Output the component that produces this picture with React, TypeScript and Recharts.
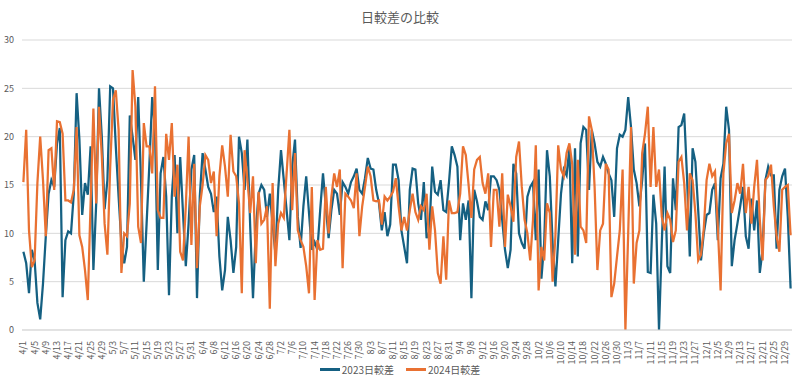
import { LineChart, Line, XAxis, YAxis, CartesianGrid } from 'recharts';

// 4月〜12月の日付ラベル
const MONTHS = [4, 5, 6, 7, 8, 9, 10, 11, 12];
const MONTH_DAYS = [30, 31, 30, 31, 31, 30, 31, 30, 31];
const dates: string[] = [];
MONTHS.forEach((m, i) => {
  for (let d = 1; d <= MONTH_DAYS[i]; d++) dates.push(`${m}/${d}`);
});

const Y_TICKS = [0, 5, 10, 15, 20, 25, 30];

// 2023日較差
const diff2023 = [
  8.1, 6.9, 3.8, 8.3, 7.2, 2.8, 1.1, 4.8, 9.7, 14.1,
  15.5, 14.8, 19.3, 20.9, 3.4, 9.3, 10.2, 10, 14.1, 24.5,
  19.7, 11.9, 15.2, 14, 19, 6.2, 13.1, 25, 20, 12.5,
  15.5, 25.2, 25, 19, 13.8, 9, 6.9, 8.6, 22.2, 20,
  17.6, 24.1, 15.5, 5, 11, 17.2, 24.1, 20.7, 6.2, 16.2,
  17.9, 13.8, 3.6, 13.8, 18.1, 10, 17.9, 12.1, 6.6, 11,
  16.6, 18.1, 3.3, 13.8, 18.3, 16.6, 14.8, 14.1, 12.2, 13.8,
  7.6, 4.1, 6.2, 11.7, 9.3, 5.9, 8.6, 20, 18.3, 14.5,
  19.7, 10.7, 3.3, 10.3, 14.1, 15, 14.5, 11.7, 14.1, 11,
  7.9, 14.5, 18.6, 15.5, 12.4, 9.3, 16.9, 19.7, 11.7, 8.5,
  12.8, 15.9, 12.1, 8.3, 9.1, 8.3, 12.4, 16.2, 12.8, 9.5,
  12.4, 14.5, 14.1, 11.9, 15.3, 14.8, 14.1, 15.3, 15.9, 16.7,
  14.5, 14.1, 15.7, 17.8, 16.7, 16.6, 14.5, 13.1, 10.3, 12.2,
  9.7, 10.9, 17.1, 17.1, 15.5, 10.3, 8.6, 6.9, 14.5, 16.7,
  16.6, 13.1, 11.4, 15.3, 9.5, 10.2, 16.9, 14.3, 14, 15.5,
  12.4, 12.2, 15.3, 19, 18.1, 16.9, 9.3, 13.1, 11.4, 13.4,
  3.3, 14.5, 13.3, 11.7, 11.4, 13.3, 12.4, 15.9, 15.9, 15.5,
  14.5, 11.4, 8.3, 6.4, 8.3, 17.2, 16.2, 10, 9, 8.4,
  13.8, 14.8, 15.3, 9.3, 16.6, 5.3, 9, 18.6, 15.9, 9,
  4.5, 9.3, 14.1, 16.6, 16, 18.8, 6.9, 18.8, 7.6, 19.3,
  21, 20.7, 14.5, 20.7, 19.3, 17.4, 16.9, 17.9, 17.2, 16.2,
  15.5, 11.7, 18.8, 20.2, 20, 20.7, 24.1, 21, 16.6, 15.2,
  12.8, 15.5, 19.3, 6, 5.9, 14, 11, 0, 9, 16.9,
  6.6, 5.9, 15.7, 12.4, 21, 21.2, 22.4, 15.9, 7.6, 18.8,
  17.4, 12.4, 7.2, 10, 11.9, 12.1, 14.5, 15.2, 9.3, 15.7,
  17.2, 23.1, 20.7, 6.6, 9.3, 11, 12.8, 14.8, 9.7, 8.4,
  13.6, 10.3, 13.4, 5.9, 8.3, 15.5, 16.9, 16, 16, 8.4,
  14.5, 15.9, 16.7, 11.7, 4.3,
];

// 2024日較差
const diff2024 = [
  15.3, 20.7, 10.3, 6.5, 7.2, 15.2, 20, 15.5, 9.7, 18.6,
  18.8, 14.5, 21.6, 21.5, 20.3, 13.4, 13.4, 13.2, 14.5, 21,
  9.8, 8.6, 6.2, 3.1, 13.1, 22.9, 13.1, 23.1, 18, 11,
  7.8, 16.9, 23.8, 24.8, 20.7, 5.9, 10, 9.7, 13.1, 26.9,
  23.1, 10.7, 9, 21.4, 19, 19, 16.2, 25.2, 12.4, 11.6,
  11.6, 20.3, 17.6, 21.4, 13.8, 17.1, 8.1, 7.2, 12.8, 20,
  8.8, 17.2, 6.4, 12.8, 15, 18.1, 17.6, 15.2, 16.4, 9.7,
  15.9, 19.1, 16.9, 13.8, 20.2, 16.4, 15.9, 13.1, 3.8, 18.6,
  15.5, 12.1, 15.9, 6.9, 14.3, 11, 11.4, 12.8, 2.2, 15.2,
  6.6, 11, 12.1, 11.6, 16.2, 20.7, 12.4, 18.3, 10.3, 9.3,
  8.6, 6.6, 3.8, 14.8, 3.1, 9.3, 8.3, 8.4, 14.8, 10,
  13.8, 16.2, 14.8, 16.6, 6.4, 14.1, 13.8, 13.4, 12.6, 16.2,
  9.7, 12.8, 14.8, 16.9, 15.9, 13.4, 13.3, 13.4, 10.9, 13.8,
  13.4, 13.8, 14.3, 15.7, 12.8, 10.3, 11.7, 10.3, 12.4, 14.1,
  12.2, 11.4, 12.8, 12.4, 14.1, 8.3, 12.8, 10.3, 5.9, 4.8,
  9.7, 5.2, 13.4, 12.1, 12.1, 12.2, 14.1, 19, 18.1, 15,
  11.6, 16.6, 17.6, 17.9, 15.2, 14.1, 16.2, 8.6, 14.5, 14.5,
  10.7, 16.2, 8.6, 14, 12.8, 11.2, 17.9, 19.5, 14.8, 11.4,
  10, 7.2, 11.4, 19.1, 4.1, 8.6, 7.2, 13.1, 12.1, 5,
  9.7, 19.1, 16.6, 15.9, 18.3, 19.3, 17.2, 7.8, 17.6, 10.7,
  10.3, 9, 22.1, 20.7, 14.8, 6.2, 10.3, 11, 17.2, 16.6,
  3.4, 4.8, 7.6, 10.3, 16.6, 0, 10, 21, 4.8, 9,
  10.3, 18.3, 20.3, 23.1, 14.8, 21, 14.8, 16.6, 11.7, 10.3,
  12.1, 11.4, 9.1, 10.3, 17.4, 17.9, 15.2, 10.3, 16.2, 15.5,
  12.1, 7.2, 7.8, 10.5, 15.5, 17.2, 15.9, 16.4, 10.7, 4.1,
  16.2, 19.3, 20.3, 12.1, 13.4, 15.2, 14.1, 17.2, 12.1, 14.8,
  11, 14.8, 17.6, 11.4, 7.2, 15.5, 15.9, 17.1, 12.8, 9.7,
  8.1, 14.5, 14.8, 15, 9.8,
];

const BLUE = '#156082';
const ORANGE = '#E97132';
const TEXT = '#595959';
const FONT = '"Noto Sans CJK JP", "Noto Sans", sans-serif';

const data = dates.map((date, i) => ({
  date,
  y2023: diff2023[i],
  y2024: diff2024[i],
}));

const XTick = (props: any) => {
  const { x, y, payload } = props;
  return (
    <text
      x={x + 3}
      y={y + 3}
      transform={`rotate(-90 ${x + 3} ${y + 3})`}
      textAnchor="end"
      fontSize={9}
      fill={TEXT}
      fontFamily={FONT}
    >
      {payload.value}
    </text>
  );
};

export default function App() {
  return (
    <div style={{ position: 'absolute', left: 0, top: 0, width: 800, height: 383, background: '#fff', fontFamily: FONT }}>
      <div style={{ position: 'absolute', top: 7, width: 800, textAlign: 'center', fontSize: 13, color: TEXT }}>
        日較差の比較
      </div>
      <LineChart width={800} height={383} data={data} margin={{ top: 40, right: 8, left: 0, bottom: 28 }}>
        <CartesianGrid vertical={false} stroke="#d9d9d9" />
        <XAxis
          dataKey="date"
          interval={3}
          tick={<XTick />}
          tickLine={false}
          axisLine={{ stroke: '#d9d9d9' }}
          height={25}
          padding={{ left: 1.4, right: 1.4 }}
        />
        <YAxis
          domain={[0, 30]}
          ticks={Y_TICKS}
          width={22}
          axisLine={false}
          tickLine={false}
          tick={{ fontSize: 9, fill: TEXT, fontFamily: FONT }}
        />
        <Line type="linear" dataKey="y2023" stroke={BLUE} strokeWidth={2.25} dot={false} isAnimationActive={false} />
        <Line type="linear" dataKey="y2024" stroke={ORANGE} strokeWidth={2.25} dot={false} isAnimationActive={false} />
      </LineChart>
      <div style={{ position: 'absolute', top: 362, width: 800, display: 'flex', justifyContent: 'center', gap: 12, fontSize: 10, color: TEXT }}>
        <span style={{ display: 'flex', alignItems: 'center' }}>
          <span style={{ display: 'inline-block', width: 20, height: 2.5, background: BLUE, marginRight: 2 }} />
          2023日較差
        </span>
        <span style={{ display: 'flex', alignItems: 'center' }}>
          <span style={{ display: 'inline-block', width: 20, height: 2.5, background: ORANGE, marginRight: 2 }} />
          2024日較差
        </span>
      </div>
    </div>
  );
}
